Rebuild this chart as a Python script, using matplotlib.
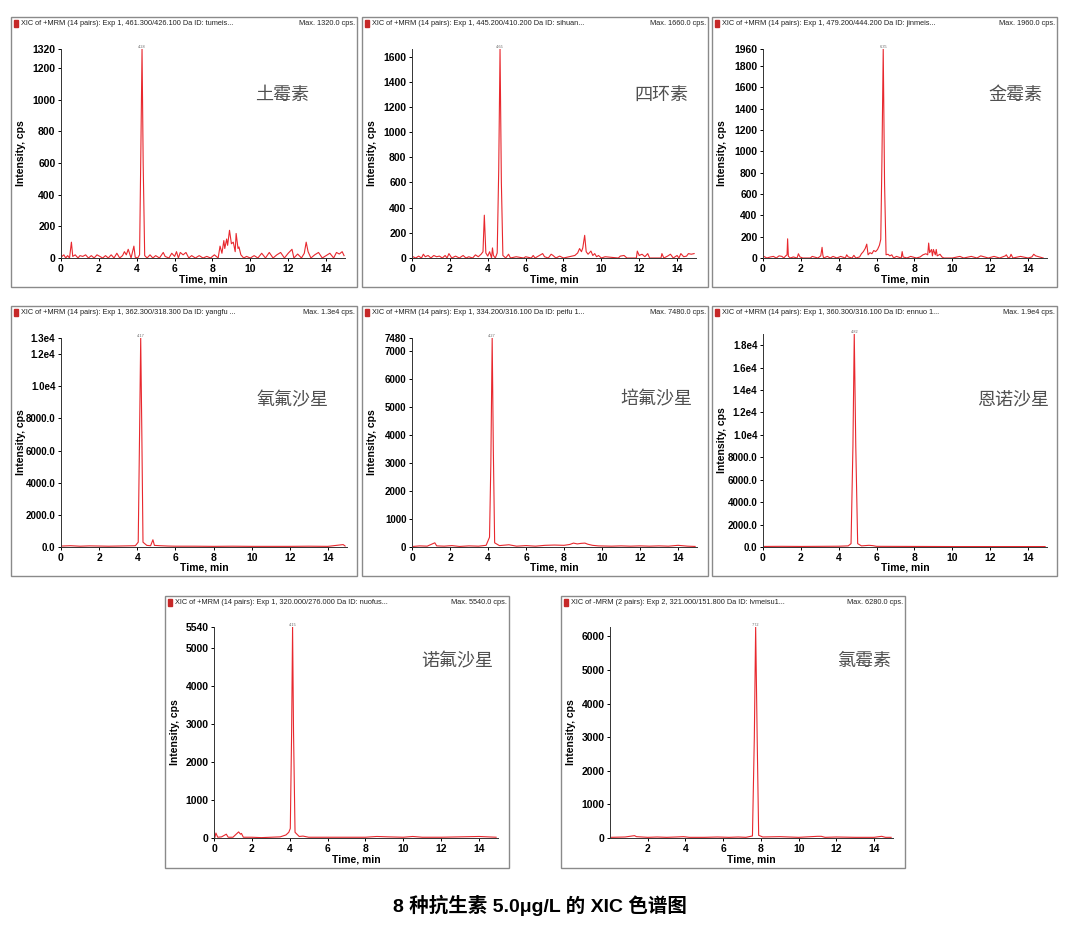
import matplotlib
matplotlib.use("Agg")
import matplotlib.pyplot as plt
from matplotlib.patches import Rectangle
from matplotlib import font_manager

plt.rcParams['font.family'] = ['Liberation Sans', 'Noto Sans CJK SC', 'DejaVu Sans']

# condensed face for the instrument-style labels if there is one
installed = {f.name for f in font_manager.fontManager.ttflist}
if 'Liberation Sans Narrow' in installed:
    AXFONT = ['Liberation Sans Narrow', 'Liberation Sans']
    AXSIZE = 9.0
    MIDSIZE = 8.3
else:
    AXFONT = ['Liberation Sans']
    AXSIZE = 7.5
    MIDSIZE = 7.0

# ---- data (time in min, intensity in cps) ----
t_tumeisu = [0.05, 0.15, 0.25, 0.35, 0.45, 0.55, 0.62, 0.75, 0.9, 1.0, 1.15, 1.3, 1.45, 1.6, 1.75,
             1.9, 2.05, 2.2, 2.35, 2.5, 2.65, 2.8, 2.95, 3.1, 3.25, 3.35, 3.45, 3.55, 3.7, 3.85,
             3.92, 4.05, 4.15, 4.22, 4.28, 4.34, 4.42, 4.55, 4.7, 4.85, 5.0, 5.2, 5.4, 5.5, 5.7,
             5.85, 6.0, 6.1, 6.2, 6.3, 6.45, 6.6, 6.75, 6.9, 7.1, 7.3, 7.5, 7.7, 7.9, 8.1, 8.3,
             8.4, 8.5, 8.6, 8.65, 8.75, 8.8, 8.9, 9.0, 9.1, 9.2, 9.25, 9.35, 9.4, 9.5, 9.65, 9.8,
             10.0, 10.2, 10.4, 10.6, 10.8, 11.0, 11.2, 11.4, 11.6, 11.8, 12.0, 12.2, 12.3, 12.5,
             12.7, 12.85, 12.95, 13.05, 13.2, 13.4, 13.6, 13.8, 14.0, 14.2, 14.4, 14.55, 14.7,
             14.85, 14.95]
y_tumeisu = [10, 20, 0, 15, 0, 100, 10, 20, 0, 15, 10, 20, 0, 15, 0,
             20, 10, 0, 15, 0, 20, 0, 30, 0, 15, 40, 20, 55, 0, 75,
             5, 0, 20, 700, 1320, 600, 15, 0, 20, 0, 15, 0, 35, 10, 0,
             30, 10, 40, 0, 35, 20, 35, 0, 15, 0, 15, 0, 10, 0, 20, 0,
             75, 30, 110, 60, 120, 80, 175, 90, 100, 40, 155, 60, 70, 20, 0, 10,
             0, 15, 0, 30, 0, 35, 0, 20, 35, 0, 30, 55, 0, 25,
             0, 30, 100, 40, 0, 20, 35, 0, 15, 30, 0, 35, 25,
             40, 15]

t_sihuansu = [0.05, 0.2, 0.35, 0.5, 0.6, 0.7, 0.85, 1.0, 1.15, 1.3, 1.45, 1.6, 1.75, 1.85, 1.95,
              2.1, 2.3, 2.5, 2.7, 2.85, 3.0, 3.2, 3.35, 3.5, 3.65, 3.75, 3.82, 3.9, 4.0, 4.1,
              4.2, 4.25, 4.3, 4.4, 4.5, 4.58, 4.65, 4.72, 4.8, 4.95, 5.1, 5.2, 5.5, 5.9, 6.0,
              6.3, 6.4, 6.5, 6.9, 7.0, 7.2, 7.35, 7.45, 7.6, 7.8, 8.0, 8.6, 8.75, 8.85, 8.95,
              9.02, 9.12, 9.2, 9.3, 9.45, 9.55, 9.65, 9.75, 9.85, 10.0, 10.2, 10.9, 11.0, 11.2,
              11.35, 11.85, 11.9, 12.0, 12.15, 12.3, 12.45, 12.55, 13.15, 13.2, 13.3, 13.5,
              13.65, 13.8, 14.0, 14.1, 14.2, 14.35, 14.5, 14.6, 14.75, 14.9]
y_sihuansu = [10, 0, 15, 0, 30, 10, 20, 0, 20, 10, 15, 0, 20, 0, 35,
              0, 15, 0, 20, 0, 10, 0, 25, 10, 30, 50, 340, 40, 15, 50,
              0, 80, 20, 0, 40, 700, 1660, 600, 20, 0, 30, 0, 10, 0, 10,
              0, 20, 0, 35, 10, 0, 30, 20, 0, 15, 0, 20, 40, 75, 50,
              80, 180, 50, 30, 55, 20, 35, 10, 20, 0, 10, 0, 15, 20,
              0, 0, 55, 20, 30, 10, 35, 0, 0, 35, 0, 15,
              30, 0, 20, 0, 35, 10, 15, 35, 30, 35]

t_jinmeisu = [0.05, 0.2, 0.4, 0.55, 0.7, 0.85, 1.0, 1.1, 1.2, 1.27, 1.3, 1.34, 1.45, 1.6, 1.8,
              1.87, 1.95, 2.1, 2.5, 2.6, 2.9, 3.05, 3.12, 3.16, 3.2, 3.4, 3.55, 3.7, 3.9, 4.1,
              4.35, 4.42, 4.5, 4.7, 4.8, 4.9, 5.1, 5.2, 5.3, 5.4, 5.48, 5.55, 5.65, 5.75, 5.85,
              5.95, 6.05, 6.15, 6.22, 6.28, 6.35, 6.42, 6.5, 6.6, 6.7, 6.8, 6.9, 7.05, 7.3, 7.35,
              7.4, 7.6, 7.8, 8.1, 8.3, 8.45, 8.6, 8.7, 8.75, 8.8, 8.9, 8.95, 9.0, 9.1, 9.15, 9.2,
              9.35, 9.45, 9.55, 10.0, 10.4, 10.6, 11.0, 11.3, 11.5, 11.9, 12.2, 12.5, 12.8, 12.85,
              12.95, 13.05, 13.1, 13.2, 13.6, 14.0, 14.2, 14.3, 14.4, 14.6, 14.8]
y_jinmeisu = [15, 0, 10, 15, 0, 20, 15, 0, 20, 30, 180, 15, 0, 10, 0,
              40, 10, 0, 0, 15, 0, 20, 100, 30, 0, 15, 0, 15, 0, 15,
              0, 30, 10, 0, 25, 0, 10, 40, 60, 90, 130, 30, 50, 40, 70,
              60, 80, 120, 175, 900, 1960, 700, 30, 35, 20, 30, 0, 15, 0, 60,
              10, 0, 15, 0, 10, 30, 40, 30, 140, 50, 80, 20, 80, 30, 80, 20,
              35, 10, 0, 0, 15, 0, 15, 0, 20, 0, 15, 0, 20, 30,
              0, 10, 35, 0, 15, 0, 10, 35, 20, 10, 0]

t_yangfu = [0.05, 0.5, 1.0, 1.5, 2.0, 2.5, 3.0, 3.5, 3.9, 4.05, 4.12, 4.18, 4.24, 4.3, 4.5, 4.7,
            4.82, 4.9, 5.2, 5.6, 6.0, 7.0, 8.0, 9.0, 10.0, 11.0, 12.0, 13.0, 14.0, 14.8, 14.9]
y_yangfu = [60, 80, 50, 70, 60, 50, 60, 70, 80, 300, 7000, 13000, 7000, 300, 100, 80,
            450, 100, 80, 60, 50, 50, 40, 50, 40, 40, 40, 50, 40, 150, 60]

t_peifu = [0.05, 0.4, 0.8, 1.2, 1.3, 1.7, 2.1, 2.5, 3.0, 3.5, 3.9, 4.08, 4.15, 4.22, 4.28, 4.35,
           4.6, 5.1, 5.5, 6.0, 6.5, 7.0, 7.5, 8.0, 8.3, 8.5, 8.7, 8.9, 9.1, 9.25, 9.5, 9.8,
           10.5, 11.0, 11.5, 12.0, 12.5, 13.0, 13.5, 14.0, 14.5, 14.9]
y_peifu = [20, 40, 30, 150, 40, 30, 50, 20, 40, 30, 60, 350, 3000, 7480, 3500, 150,
           50, 80, 30, 50, 30, 60, 70, 60, 90, 140, 110, 130, 140, 100, 60, 40,
           30, 40, 30, 40, 30, 40, 30, 60, 30, 20]

t_ennuo = [0.05, 1.0, 2.0, 3.0, 4.0, 4.5, 4.65, 4.75, 4.82, 4.9, 5.0, 5.2, 5.6, 5.8, 6.0, 8.0,
           10.0, 12.0, 14.0, 14.9]
y_ennuo = [50, 60, 50, 60, 70, 100, 300, 9000, 19000, 9000, 300, 100, 150, 120, 60, 50,
           40, 40, 40, 40]

t_nuofu = [0.05, 0.1, 0.2, 0.4, 0.65, 0.75, 1.0, 1.3, 1.4, 1.45, 1.55, 2.0, 2.5, 3.0, 3.5, 3.8,
           3.95, 4.03, 4.1, 4.15, 4.2, 4.28, 4.5, 4.7, 5.0, 6.0, 7.0, 8.0, 8.6, 9.2, 10.0, 10.5,
           11.0, 12.0, 13.0, 14.0, 14.9]
y_nuofu = [20, 130, 20, 30, 100, 20, 20, 160, 100, 120, 20, 20, 10, 20, 30, 80,
           150, 250, 2800, 5540, 2800, 150, 40, 50, 20, 20, 20, 20, 40, 30, 20, 40,
           20, 20, 30, 40, 20]

t_lvmeisu = [0.05, 0.8, 1.3, 1.4, 2.0, 2.5, 3.0, 3.5, 3.9, 4.2, 5.0, 5.7, 6.3, 6.8, 7.2, 7.55,
             7.65, 7.72, 7.8, 7.88, 8.1, 9.0, 10.0, 11.0, 11.2, 11.4, 12.0, 13.0, 14.0, 14.4,
             14.6, 14.9]
y_lvmeisu = [20, 30, 70, 40, 20, 30, 20, 30, 40, 20, 20, 30, 20, 30, 20, 60,
             3000, 6280, 3000, 80, 30, 40, 20, 50, 50, 20, 30, 20, 20, 50,
             20, 20]

names = ['土霉素', '四环素', '金霉素', '氧氟沙星', '培氟沙星', '恩诺沙星', '诺氟沙星', '氯霉素']
headers = [
    'XIC of +MRM (14 pairs): Exp 1, 461.300/426.100 Da ID: tumeis...',
    'XIC of +MRM (14 pairs): Exp 1, 445.200/410.200 Da ID: sihuan...',
    'XIC of +MRM (14 pairs): Exp 1, 479.200/444.200 Da ID: jinmeis...',
    'XIC of +MRM (14 pairs): Exp 1, 362.300/318.300 Da ID: yangfu ...',
    'XIC of +MRM (14 pairs): Exp 1, 334.200/316.100 Da ID: peifu 1...',
    'XIC of +MRM (14 pairs): Exp 1, 360.300/316.100 Da ID: ennuo 1...',
    'XIC of +MRM (14 pairs): Exp 1, 320.000/276.000 Da ID: nuofus...',
    'XIC of -MRM (2 pairs): Exp 2, 321.000/151.800 Da ID: lvmeisu1...',
]
max_labels = ['Max. 1320.0 cps.', 'Max. 1660.0 cps.', 'Max. 1960.0 cps.', 'Max. 1.3e4 cps.',
              'Max. 7480.0 cps.', 'Max. 1.9e4 cps.', 'Max. 5540.0 cps.', 'Max. 6280.0 cps.']
peak_rt = ['4.28', '4.65', '6.35', '4.17', '4.27', '4.82', '4.15', '7.72']
y_max = [1320, 1660, 1960, 13000, 7480, 19000, 5540, 6280]

yticks = [
    [0, 200, 400, 600, 800, 1000, 1200, 1320],
    [0, 200, 400, 600, 800, 1000, 1200, 1400, 1600],
    [0, 200, 400, 600, 800, 1000, 1200, 1400, 1600, 1800, 1960],
    [0, 2000, 4000, 6000, 8000, 10000, 12000, 13000],
    [0, 1000, 2000, 3000, 4000, 5000, 6000, 7000, 7480],
    [0, 2000, 4000, 6000, 8000, 10000, 12000, 14000, 16000, 18000],
    [0, 1000, 2000, 3000, 4000, 5000, 5540],
    [0, 1000, 2000, 3000, 4000, 5000, 6000],
]
ytick_labels = [
    ['0', '200', '400', '600', '800', '1000', '1200', '1320'],
    ['0', '200', '400', '600', '800', '1000', '1200', '1400', '1600'],
    ['0', '200', '400', '600', '800', '1000', '1200', '1400', '1600', '1800', '1960'],
    ['0.0', '2000.0', '4000.0', '6000.0', '8000.0', '1.0e4', '1.2e4', '1.3e4'],
    ['0', '1000', '2000', '3000', '4000', '5000', '6000', '7000', '7480'],
    ['0.0', '2000.0', '4000.0', '6000.0', '8000.0', '1.0e4', '1.2e4', '1.4e4', '1.6e4', '1.8e4'],
    ['0', '1000', '2000', '3000', '4000', '5000', '5540'],
    ['0', '1000', '2000', '3000', '4000', '5000', '6000'],
]
xticks_full = [0, 2, 4, 6, 8, 10, 12, 14]
xticks_last = [2, 4, 6, 8, 10, 12, 14]

times = [t_tumeisu, t_sihuansu, t_jinmeisu, t_yangfu, t_peifu, t_ennuo, t_nuofu, t_lvmeisu]
values = [y_tumeisu, y_sihuansu, y_jinmeisu, y_yangfu, y_peifu, y_ennuo, y_nuofu, y_lvmeisu]

# ---- layout in pixels: panel box and axes box (left, top, right, bottom) ----
W, H = 1080, 941
boxes = [(11, 17, 357, 287), (362, 17, 708, 287), (712, 17, 1057, 287),
         (11, 306, 357, 576), (362, 306, 708, 576), (712, 306, 1057, 576),
         (165, 596, 509, 868), (561, 596, 905, 868)]
axes_px = [(61, 49, 345, 258), (412, 49, 696, 258), (763, 49, 1047, 258),
           (61, 338, 347, 547), (412, 338, 697, 547), (763, 334, 1047, 547),
           (214, 627, 498, 838), (610, 627, 893, 838)]
name_pos = [(282, 95), (661, 95), (1015, 95), (293, 400), (656, 399), (1013, 399),
            (457, 661), (864, 661)]

RED = '#e8282e'


def fx(px):
    return px / W


def fy(py):
    return 1 - py / H


fig = plt.figure(figsize=(W / 100, H / 100), dpi=100)

for i in range(8):
    bl, bt, br, bb = boxes[i]
    middle_row = 3 <= i <= 5
    # panel frame
    fig.patches.append(Rectangle((fx(bl), fy(bb)), (br - bl) / W, (bb - bt) / H,
                                 transform=fig.transFigure, fill=False,
                                 edgecolor='#8a8a8a', linewidth=1.0))
    # header: red marker, trace description, max intensity
    fig.patches.append(Rectangle((fx(bl + 3), fy(bt + 10)), 4 / W, 7 / H,
                                 transform=fig.transFigure, color='#c62828'))
    fig.text(fx(bl + 10), fy(bt + 6.5), headers[i], fontsize=5.3, va='center', ha='left',
             color='#222222', family=AXFONT)
    fig.text(fx(br - 2), fy(bt + 6.5), max_labels[i], fontsize=5.3, va='center', ha='right',
             color='#222222', family=AXFONT)

    al, at, ar, ab = axes_px[i]
    ax = fig.add_axes([fx(al), fy(ab), (ar - al) / W, (ab - at) / H])
    n = min(len(times[i]), len(values[i]))
    ax.plot(times[i][:n], values[i][:n], color=RED, linewidth=0.8)
    ax.set_xlim(0, 15)
    ax.set_ylim(0, y_max[i])
    ax.set_xticks(xticks_last if i == 7 else xticks_full)
    ax.set_yticks(yticks[i])
    ax.set_yticklabels(ytick_labels[i])
    for lab in ax.get_xticklabels():
        lab.set_fontweight('bold')
        lab.set_fontsize(AXSIZE)
        lab.set_family(AXFONT)
    for lab in ax.get_yticklabels():
        lab.set_fontweight('bold')
        lab.set_fontsize(MIDSIZE if middle_row else AXSIZE)
        lab.set_family(AXFONT)
    ax.tick_params(length=2.5, width=0.7, pad=1.5, colors='black')
    for side in ['top', 'right']:
        ax.spines[side].set_visible(False)
    for side in ['left', 'bottom']:
        ax.spines[side].set_linewidth(0.7)
        ax.spines[side].set_color('#333333')

    # retention time label over the peak
    k = values[i].index(max(values[i]))
    ax.text(times[i][k], y_max[i], peak_rt[i], fontsize=2.8, color='#666666',
            ha='center', va='bottom', clip_on=False)

    # axis titles
    fig.text(fx(bl + 10), fy((at + ab) / 2), 'Intensity, cps', rotation=90,
             fontsize=AXSIZE, fontweight='bold', ha='center', va='center', family=AXFONT)
    fig.text(fx((al + ar) / 2), fy(bb - 8), 'Time, min', fontsize=AXSIZE,
             fontweight='bold', ha='center', va='center', family=AXFONT)

    # compound name
    nx, ny = name_pos[i]
    fig.text(fx(nx), fy(ny), names[i], fontsize=13, color='#505050',
             family=['Noto Sans CJK SC'], ha='center', va='center')

fig.text(fx(540), fy(905), '8 种抗生素 5.0μg/L 的 XIC 色谱图', fontsize=14,
         fontweight='bold', ha='center', va='center')

fig.savefig('out.png', dpi=100, facecolor='white')
